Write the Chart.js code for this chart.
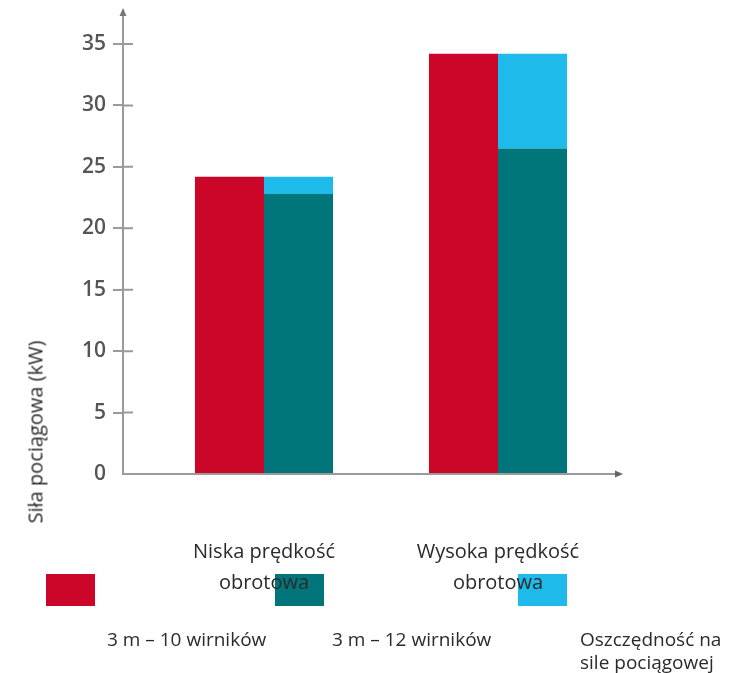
<!DOCTYPE html>
<html><head><meta charset="utf-8">
<script src="https://cdn.jsdelivr.net/npm/chart.js@4.4.0/dist/chart.umd.min.js"></script>
<style>
html,body{margin:0;padding:0;background:#fff;}
#wrap{position:relative;width:736px;height:673px;overflow:hidden;}
canvas{position:absolute;left:0;top:0;z-index:2;}
.t{position:absolute;font-family:"Open Sans",sans-serif;font-weight:400;color:#2a2a2a;font-size:19px;white-space:nowrap;line-height:23px;z-index:3;}
.sw{position:absolute;width:49px;height:32px;z-index:1;}
#ytitle{left:35px;top:432px;transform:translate(-50%,-50%) rotate(-90deg);font-size:20px;}
</style></head><body>
<div id="wrap">
<div id="legend"></div>
<canvas id="c" width="736" height="673" style="width:736px;height:673px"></canvas>
<div id="ytitle" class="t">Siła pociągowa (kW)</div>
</div>
<script>
const categories = [['Niska prędkość', 'obrotowa'], ['Wysoka prędkość', 'obrotowa']];
const seriesNames = ['3 m – 10 wirników', '3 m – 12 wirników', 'Oszczędność na sile pociągowej'];
const legendLines = [['3 m – 10 wirników'], ['3 m – 12 wirników'], ['Oszczędność na', 'sile pociągowej']];
const rotor10 = [24.2, 34.2];
const rotor12 = [22.8, 26.5];
const savings = [1.4, 7.7];
const yMin = 0, yMax = 35, yStep = 5;

const colors = ['#cc0628', '#00767b', '#1ebbea'];

// HTML legend (squares under the canvas, labels below)
const legend = document.getElementById('legend');
const swLeft = [46, 275, 518];
const lblLeft = [107, 332, 580];
legendLines.forEach((lines, i) => {
  const s = document.createElement('div');
  s.className = 'sw'; s.style.left = swLeft[i] + 'px'; s.style.top = '574px'; s.style.background = colors[i];
  legend.appendChild(s);
  const l = document.createElement('div');
  l.className = 't'; l.style.left = lblLeft[i] + 'px'; l.style.top = '628px';
  l.innerHTML = lines.join('<br>');
  document.getElementById('wrap').appendChild(l);
});

const axisDecor = {
  id: 'axisDecor',
  afterDraw(chart) {
    const {ctx, chartArea: a, scales: {y}} = chart;
    ctx.save();
    ctx.strokeStyle = '#9a9a9a'; ctx.lineWidth = 2;
    ctx.beginPath();
    ctx.moveTo(a.left, a.top); ctx.lineTo(a.left, 13);
    ctx.moveTo(a.right, a.bottom); ctx.lineTo(a.right + 5, a.bottom);
    y.ticks.forEach(t => {
      if (t.value === 0) return;
      const py = y.getPixelForValue(t.value);
      ctx.moveTo(a.left, py); ctx.lineTo(a.left + 10, py);
    });
    ctx.stroke();
    ctx.fillStyle = '#777';
    ctx.beginPath(); ctx.moveTo(a.left, 8); ctx.lineTo(a.left - 3.5, 16); ctx.lineTo(a.left + 3.5, 16); ctx.closePath(); ctx.fill();
    ctx.fillStyle = '#666';
    ctx.beginPath(); ctx.moveTo(a.right + 11, a.bottom); ctx.lineTo(a.right + 3, a.bottom - 3.5); ctx.lineTo(a.right + 3, a.bottom + 3.5); ctx.closePath(); ctx.fill();
    ctx.restore();
  }
};

new Chart(document.getElementById('c'), {
  type: 'bar',
  data: {
    labels: categories,
    datasets: [
      {label: seriesNames[0], data: rotor10, backgroundColor: colors[0], stack: 'a'},
      {label: seriesNames[1], data: rotor12, backgroundColor: colors[1], stack: 'b'},
      {label: seriesNames[2], data: savings, backgroundColor: colors[2], stack: 'b'}
    ]
  },
  options: {
    responsive: false,
    devicePixelRatio: 1,
    animation: false,
    categoryPercentage: 0.59,
    barPercentage: 1,
    layout: {padding: {left: 0, right: 124, top: 44, bottom: 0}},
    plugins: {legend: {display: false}, tooltip: {enabled: false}, title: {display: false}},
    scales: {
      x: {
        stacked: true,
        grid: {display: false, drawTicks: false},
        border: {display: true, color: '#9a9a9a', width: 2},
        ticks: {
          padding: 63,
          color: '#2a2a2a',
          font: {family: '"Open Sans", sans-serif', size: 20, weight: '400', lineHeight: 1.55},
          maxRotation: 0, autoSkip: false
        },
        afterBuildTicks: (s) => { s._startValue = -0.6026; s._valueRange = 2.0898; },
        afterFit: (s) => { s.height = 199; }
      },
      y: {
        stacked: true,
        min: yMin, max: yMax,
        grid: {
          drawOnChartArea: false, drawTicks: true, tickLength: 10, lineWidth: 2,
          color: (c) => (c.tick && c.tick.value === 0) ? 'rgba(0,0,0,0)' : '#9a9a9a'
        },
        border: {display: true, color: '#9a9a9a', width: 2},
        ticks: {
          stepSize: yStep,
          padding: 7,
          color: '#555',
          font: {family: '"Open Sans", sans-serif', size: 21, weight: '600'}
        },
        afterFit: (s) => { s.width = 123; }
      }
    }
  },
  plugins: [axisDecor]
});
</script>
</body></html>
